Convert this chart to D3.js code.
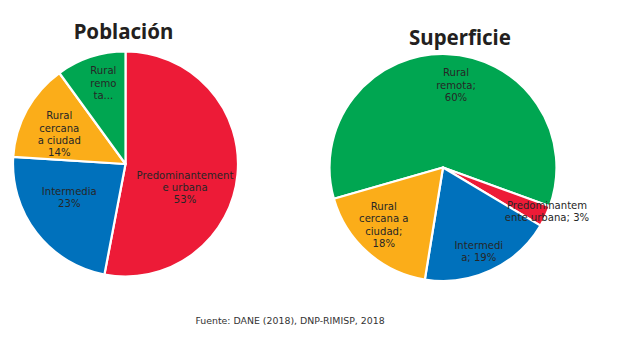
<!DOCTYPE html>
<html>
<head>
<meta charset="utf-8">
<script src="https://cdn.jsdelivr.net/npm/d3@7/dist/d3.min.js"></script>
<style>
  html, body { margin: 0; padding: 0; background: #ffffff; }
  svg { display: block; }
</style>
</head>
<body>
<svg id="chart" width="642" height="348"></svg>
<script>
// ---- data ----
const titles = ["Población", "Superficie"];
const poblacionCategories = ["Predominantemente urbana", "Intermedia", "Rural cercana a ciudad", "Rural remota"];
const poblacionValues = [53, 23, 14, 10];
const poblacionLabels = [["Predominantement", "e urbana", "53%"], ["Intermedia", "23%"], ["Rural", "cercana", "a ciudad", "14%"], ["Rural", "remo", "ta..."]];
const superficieCategories = ["Rural remota", "Predominantemente urbana", "Intermedia", "Rural cercana a ciudad"];
const superficieValues = [60, 3, 19, 18];
const superficieLabels = [["Rural", "remota;", "60%"], ["Predominantem", "ente urbana; 3%"], ["Intermedi", "a; 19%"], ["Rural", "cercana a", "ciudad;", "18%"]];
const sourceText = "Fuente: DANE (2018), DNP-RIMISP, 2018";

// ---- styles / layout ----
const colorMap = {
  "Predominantemente urbana": "#ED1B37",
  "Intermedia": "#0071BC",
  "Rural cercana a ciudad": "#FBAD19",
  "Rural remota": "#00A651"
};
const svg = d3.select("#chart");
const labelFont = "'DejaVu Sans', 'Open Sans', sans-serif";
const lineH = 12.3;

function drawPie(cfg) {
  const g = svg.append("g").attr("transform", `translate(${cfg.cx},${cfg.cy})`);
  const pie = d3.pie().sort(null).value(d => d.v)
    .startAngle(cfg.start).endAngle(cfg.start + 2 * Math.PI);
  const data = cfg.cats.map((c, i) => ({ c, v: cfg.vals[i], lab: cfg.labels[i], nudge: cfg.nudges[i] }));
  const arcs = pie(data);
  const arc = d3.arc().innerRadius(0).outerRadius(cfg.r);
  const labelArc = d3.arc().innerRadius(cfg.r * 0.6).outerRadius(cfg.r * 0.6);

  g.selectAll("path.slice").data(arcs).join("path")
    .attr("class", "slice")
    .attr("d", arc)
    .attr("fill", d => colorMap[d.data.c])
    .attr("stroke", "#ffffff")
    .attr("stroke-width", 2.2)
    .attr("stroke-linejoin", "round");

  g.selectAll("text.lab").data(arcs).join("text")
    .attr("class", "lab")
    .attr("text-anchor", "middle")
    .attr("font-family", labelFont)
    .attr("font-size", 10.1)
    .attr("fill", "#262626")
    .each(function(d) {
      const [x, y] = labelArc.centroid(d);
      const px = x + d.data.nudge[0], py = y + d.data.nudge[1];
      const n = d.data.lab.length;
      const t = d3.select(this);
      d.data.lab.forEach((line, i) => {
        t.append("tspan")
          .attr("x", px)
          .attr("y", py + (i - (n - 1) / 2) * lineH)
          .attr("dominant-baseline", "central")
          .text(line);
      });
    });

  svg.append("text")
    .attr("x", cfg.cx + cfg.titleDx)
    .attr("y", cfg.titleY)
    .attr("text-anchor", "middle")
    .attr("dominant-baseline", "central")
    .attr("font-family", "'Noto Sans', 'Open Sans', sans-serif")
    .attr("font-weight", "bold")
    .attr("font-size", 20.5)
    .attr("fill", "#231F20")
    .text(cfg.title);
}

drawPie({
  cx: 125.5, cy: 164, r: 112.5, start: 0,
  cats: poblacionCategories, vals: poblacionValues, labels: poblacionLabels,
  nudges: [[-7.7, 17.2], [-2.9, -7.9], [-7.1, 2.8], [-1.3, -16.8]],
  title: titles[0], titleDx: -2, titleY: 31
});

drawPie({
  cx: 443, cy: 167.5, r: 113.5, start: -106 * Math.PI / 180,
  cats: superficieCategories, vals: superficieValues, labels: superficieLabels,
  nudges: [[10.6, -14.4], [42.5, 14.6], [7, 22.5], [-14, 6.6]],
  title: titles[1], titleDx: 17, titleY: 37
});

svg.append("text")
  .attr("x", 290)
  .attr("y", 320)
  .attr("text-anchor", "middle")
  .attr("dominant-baseline", "central")
  .attr("font-family", labelFont)
  .attr("font-size", 9.4)
  .attr("fill", "#333333")
  .text(sourceText);
</script>
</body>
</html>
